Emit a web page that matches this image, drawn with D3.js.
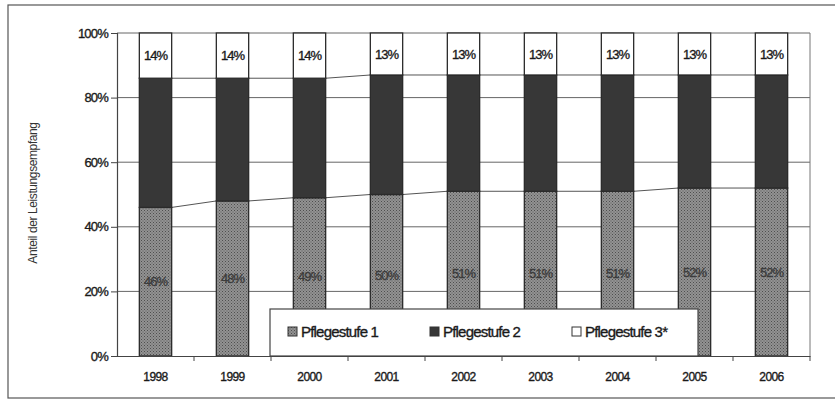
<!DOCTYPE html>
<html>
<head>
<meta charset="utf-8">
<script src="https://cdn.jsdelivr.net/npm/d3@7"></script>
<style>
  body { margin: 0; background: #fff; }
  text { font-family: "Liberation Sans", Arial, sans-serif; }
</style>
</head>
<body>
<div id="chart"></div>
<script>
// data
var years = ["1998", "1999", "2000", "2001", "2002", "2003", "2004", "2005", "2006"];
var stufe1 = [46, 48, 49, 50, 51, 51, 51, 52, 52];
var stufe3 = [14, 14, 14, 13, 13, 13, 13, 13, 13];
var stufe2 = years.map(function(d, i) { return 100 - stufe1[i] - stufe3[i]; });
var seriesNames = ["Pflegestufe 1", "Pflegestufe 2", "Pflegestufe 3*"];
var yTicks = [0, 20, 40, 60, 80, 100];

var W = 835, H = 401;
var margin = {top: 33, right: 25, bottom: 45, left: 117};
var width = W - margin.left - margin.right,
    height = H - margin.top - margin.bottom;

var svg = d3.select("#chart").append("svg")
    .attr("width", W)
    .attr("height", H);

// dotted grey fill for Pflegestufe 1
var defs = svg.append("defs");
var pat = defs.append("pattern")
    .attr("id", "dots")
    .attr("width", 3).attr("height", 3)
    .attr("patternUnits", "userSpaceOnUse");
pat.append("rect").attr("width", 3).attr("height", 3).attr("fill", "#929292");
pat.append("rect").attr("width", 1).attr("height", 1).attr("fill", "#4e4e4e");
pat.append("rect").attr("x", 1.5).attr("y", 1.5).attr("width", 1).attr("height", 1).attr("fill", "#5a5a5a");

// outer chart frame
svg.append("rect")
    .attr("x", 8).attr("y", 5)
    .attr("width", 840).attr("height", 393)
    .attr("fill", "none")
    .attr("stroke", "#555")
    .attr("stroke-width", 1.2);

var g = svg.append("g")
    .attr("transform", "translate(" + margin.left + "," + margin.top + ")");

var x = d3.scaleBand()
    .domain(years)
    .range([0, width])
    .paddingInner(0.58)
    .paddingOuter(0.29);

var y = d3.scaleLinear()
    .domain([0, 100])
    .range([height, 0]);

// gridlines
g.selectAll(".grid")
  .data(yTicks.slice(1))
  .enter().append("line")
    .attr("class", "grid")
    .attr("x1", 0).attr("x2", width)
    .attr("y1", function(d) { return y(d); })
    .attr("y2", function(d) { return y(d); })
    .attr("stroke", "#666")
    .attr("stroke-width", 1);

// plot border (right side)
g.append("line")
    .attr("x1", width).attr("x2", width)
    .attr("y1", 0).attr("y2", height)
    .attr("stroke", "#777");

// stack
var rows = years.map(function(d, i) {
  return {year: d, s1: stufe1[i], s2: stufe2[i], s3: stufe3[i]};
});
var stack = d3.stack().keys(["s1", "s2", "s3"]);
var layers = stack(rows);
var fills = ["url(#dots)", "#373737", "#fff"];

// series lines between bars
[0, 1].forEach(function(k) {
  var layer = layers[k];
  for (var i = 0; i < years.length - 1; i++) {
    g.append("line")
      .attr("x1", x(years[i]) + x.bandwidth())
      .attr("x2", x(years[i + 1]))
      .attr("y1", y(layer[i][1]))
      .attr("y2", y(layer[i + 1][1]))
      .attr("stroke", "#555")
      .attr("stroke-width", 1);
  }
});

layers.forEach(function(layer, k) {
  g.selectAll(".bar" + k)
    .data(layer)
    .enter().append("rect")
      .attr("class", "bar" + k)
      .attr("x", function(d) { return x(d.data.year); })
      .attr("width", x.bandwidth())
      .attr("y", function(d) { return y(d[1]); })
      .attr("height", function(d) { return y(d[0]) - y(d[1]); })
      .attr("fill", fills[k])
      .attr("stroke", "#2a2a2a")
      .attr("stroke-width", 1.3);
});

// data labels
function heavy(sel, col) {
  sel.attr("fill", col).attr("stroke", col).attr("stroke-width", 0.35);
}
g.selectAll(".lab1")
  .data(layers[0])
  .enter().append("text")
    .attr("x", function(d) { return x(d.data.year) + x.bandwidth() / 2; })
    .attr("y", function(d) { return y((d[0] + d[1]) / 2); })
    .attr("dy", "0.35em")
    .attr("text-anchor", "middle")
    .attr("font-size", 13)
    .attr("letter-spacing", "-1px")
    .text(function(d) { return d.data.s1 + "%"; })
    .call(heavy, "#3c3c3c");

g.selectAll(".lab3")
  .data(layers[2])
  .enter().append("text")
    .attr("x", function(d) { return x(d.data.year) + x.bandwidth() / 2; })
    .attr("y", function(d) { return y((d[0] + d[1]) / 2); })
    .attr("dy", "0.35em")
    .attr("text-anchor", "middle")
    .attr("font-size", 13)
    .attr("letter-spacing", "-1px")
    .text(function(d) { return d.data.s3 + "%"; })
    .call(heavy, "#1a1a1a");

// y axis
var yAxis = g.append("g")
    .call(d3.axisLeft(y).tickValues(yTicks).tickSize(6).tickFormat(function(d) { return d + "%"; }));
yAxis.select(".domain").attr("stroke", "#444").attr("stroke-width", 1.2);
yAxis.selectAll(".tick line").attr("stroke", "#444");
yAxis.selectAll("text")
    .attr("font-size", 13)
    .attr("letter-spacing", "-0.8px")
    .style("font-family", "'Liberation Sans', Arial, sans-serif")
    .call(heavy, "#1a1a1a");

// x axis
var xAxis = g.append("g")
    .attr("transform", "translate(0," + height + ")")
    .call(d3.axisBottom(x).tickSize(0).tickPadding(16));
xAxis.select(".domain").attr("stroke", "#444").attr("stroke-width", 1.2);
xAxis.selectAll("text")
    .attr("font-size", 12)
    .attr("letter-spacing", "-0.6px")
    .style("font-family", "'Liberation Sans', Arial, sans-serif")
    .call(heavy, "#1a1a1a");
// tick marks between categories
g.selectAll(".xtick")
  .data(years.slice(1).concat(["end"]))
  .enter().append("line")
    .attr("x1", function(d, i) { return x.step() * (i + 1); })
    .attr("x2", function(d, i) { return x.step() * (i + 1); })
    .attr("y1", height).attr("y2", height + 5)
    .attr("stroke", "#444");

// y axis title
svg.append("text")
    .attr("transform", "translate(37,193) rotate(-90)")
    .attr("text-anchor", "middle")
    .attr("font-size", 12)
    .attr("letter-spacing", "-0.4px")
    .attr("fill", "#333")
    .text("Anteil der Leistungsempfang");

// legend
var legend = g.append("g")
    .attr("transform", "translate(" + (270 - margin.left) + "," + (309 - margin.top) + ")");
legend.append("rect")
    .attr("width", 428).attr("height", height - (309 - margin.top))
    .attr("fill", "#fff")
    .attr("stroke", "#444")
    .attr("stroke-width", 1.2);
var legendX = [18, 160, 302];
seriesNames.forEach(function(name, k) {
  legend.append("rect")
    .attr("x", legendX[k]).attr("y", 18)
    .attr("width", 9).attr("height", 9)
    .attr("fill", fills[k])
    .attr("stroke", "#333");
  legend.append("text")
    .attr("x", legendX[k] + 13).attr("y", 23)
    .attr("dy", "0.35em")
    .attr("font-size", 15)
    .attr("letter-spacing", "-0.8px")
    .text(name)
    .call(heavy, "#1a1a1a");
});
</script>
</body>
</html>
